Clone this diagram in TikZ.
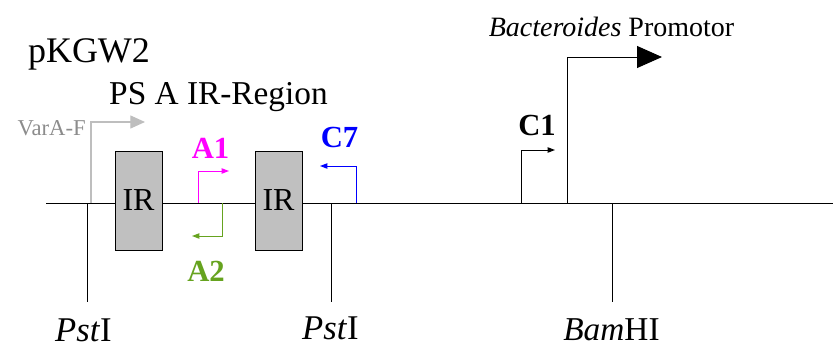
\documentclass[tikz,border=0pt]{standalone}
\usepackage{fontspec}
\setmainfont{LiberationSerif}[Extension=.ttf,UprightFont=*-Regular,
  BoldFont=*-Bold,ItalicFont=*-Italic,BoldItalicFont=*-BoldItalic]
\usetikzlibrary{arrows.meta}

\definecolor{irgrey}{RGB}{192,192,192}
\definecolor{varline}{RGB}{190,190,190}
\definecolor{vartext}{RGB}{140,140,140}
\definecolor{primerA}{RGB}{255,0,255}
\definecolor{primerB}{RGB}{102,163,31}
\definecolor{primerC}{RGB}{0,0,255}

\begin{document}
\begin{tikzpicture}[x=0.75pt,y=-0.75pt,
  txt/.style={anchor=base,inner sep=0pt},
  irbox/.style={draw,fill=irgrey,minimum width=35.25pt,minimum height=74.25pt,
    inner sep=0pt,font=\fontsize{24}{24}\selectfont},
  primer/.style={line width=0.75pt,-{Triangle[length=5.5pt,width=4pt]}},
  plabel/.style={txt,font=\fontsize{23}{23}\selectfont\bfseries}
]

\useasboundingbox (0,0) rectangle (833,347);

% Plasmid
\coordinate (left) at (46,203);
\coordinate (right) at (833,203);
\draw[line width=0.75pt] (left) -- (right);

\node[txt,font=\fontsize{27}{27}\selectfont] (plasmid) at (89,62) {pKGW2};
\node[txt,font=\fontsize{25}{25}\selectfont] (region) at (218.5,104) {PS A IR-Region};

% IR
\node[irbox] (irone) at (138.5,200.5) {IR};
\node[irbox] (irtwo) at (278.5,200.5) {IR};

% Schnittstellen
\foreach \name/\x in {pstA/87,pstB/331,bam/612}
{
\coordinate (\name top) at (\x,203);
\coordinate (\name bot) at (\x,302);
\draw[line width=0.75pt] (\name top) -- (\name bot);
}

\node[txt,font=\fontsize{26}{26}\selectfont] (pstAlabel) at (83.5,341) {\textit{Pst}I};
\node[txt,font=\fontsize{26}{26}\selectfont] (pstBlabel) at (330.5,339) {\textit{Pst}I};
\node[txt,font=\fontsize{25}{25}\selectfont] (bamlabel) at (611.5,340) {\textit{Bam}HI};

% VarA-F
\coordinate (varbase) at (91,203);
\coordinate (vartip) at (145,122);
\draw[varline,line width=0.9pt,-{Triangle[length=11pt,width=9.75pt]}]
  (varbase) |- (vartip);
\node[txt,anchor=base east,text=vartext,font=\fontsize{17}{17}\selectfont]
  (varlabel) at (86,135) {VarA-F};

% Primer
\coordinate (abase) at (198,203);
\coordinate (atip) at (229,171);
\draw[primer,primerA] (abase) |- (atip);
\node[plabel,text=primerA] (alabel) at (210.5,158) {A1};

\coordinate (bbase) at (222,203);
\coordinate (btip) at (192,236);
\draw[primer,primerB] (bbase) |- (btip);
\node[plabel,text=primerB] (blabel) at (206,281) {A2};

\coordinate (cbase) at (356,203);
\coordinate (ctip) at (320,166);
\draw[primer,primerC] (cbase) |- (ctip);
\node[plabel,text=primerC] (clabel) at (339.5,147) {C7};

\coordinate (dbase) at (521,203);
\coordinate (dtip) at (555,150);
\draw[primer,black] (dbase) |- (dtip);
\node[plabel] (dlabel) at (537,135) {C1};

% Promotor
\coordinate (probase) at (567,203);
\coordinate (protip) at (662,57);
\draw[line width=0.75pt,-{Triangle[length=18.75pt,width=16.5pt]}]
  (probase) |- (protip);
\node[txt,font=\fontsize{21}{21}\selectfont] (prolabel) at (611.5,36)
  {\textit{Bacteroides} Promotor};

\end{tikzpicture}
\end{document}
